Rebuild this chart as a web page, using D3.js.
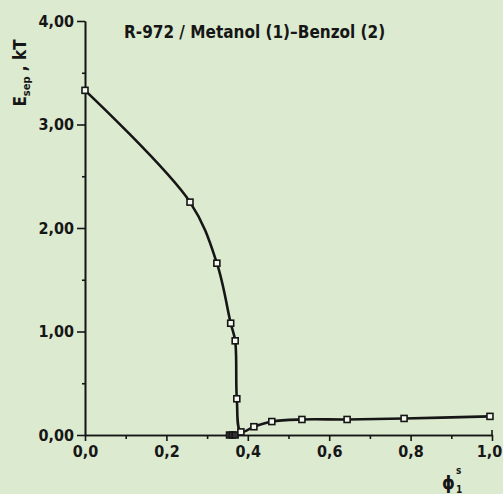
<!DOCTYPE html>
<html>
<head>
<meta charset="utf-8">
<script src="https://cdn.jsdelivr.net/npm/d3@7"></script>
<style>
  html, body { margin: 0; padding: 0; background: #dcead0; }
  svg { display: block; }
  text { font-family: "DejaVu Sans Condensed", "DejaVu Sans", sans-serif; fill: #161616; }
</style>
</head>
<body>
<div id="chart"></div>
<script>
// separation energy vs volume fraction
var phiValues = [0.0, 0.258, 0.324, 0.358, 0.369, 0.373, 0.383, 0.415, 0.459, 0.533, 0.644, 0.784, 0.995];
var esepValues = [3.33, 2.25, 1.66, 1.08, 0.91, 0.35, 0.03, 0.08, 0.13, 0.15, 0.15, 0.16, 0.18];
// points lying on the axis
var zeroPhi = [0.355, 0.362, 0.369];
var zeroEsep = [0, 0, 0];

var xTicks = [0.0, 0.2, 0.4, 0.6, 0.8, 1.0];
var xMinor = [0.1, 0.3, 0.5, 0.7, 0.9];
var yTicks = [0, 1, 2, 3, 4];
var yMinor = [0.5, 1.5, 2.5, 3.5];

var width = 503, height = 494;
var margin = {top: 21, right: 11, bottom: 59, left: 85};
var gwidth = width - margin.left - margin.right,
    gheight = height - margin.top - margin.bottom;

var svg = d3.select("#chart").append("svg")
  .attr("width", width)
  .attr("height", height);

var g = svg.append("g")
  .attr("transform", "translate(" + margin.left + "," + margin.top + ")");

var x = d3.scaleLinear().domain([0, 1]).range([0, gwidth]);
var y = d3.scaleLinear().domain([0, 4]).range([gheight, 0]);

var comma = function(n) { return function(d) { return d3.format("." + n + "f")(d).replace(".", ","); }; };

// x axis
var xAxis = g.append("g")
  .attr("transform", "translate(0," + gheight + ")")
  .call(d3.axisBottom(x).tickValues(xTicks).tickSize(6).tickSizeOuter(0).tickFormat(comma(1)));
xAxis.append("g").call(d3.axisBottom(x).tickValues(xMinor).tickSize(4).tickSizeOuter(0).tickFormat(""));
xAxis.selectAll("path, line").attr("stroke", "#161616").attr("stroke-width", 1.6);
xAxis.selectAll("text").style("font-size", "16px").style("font-weight", "bold").attr("dy", "0.95em").attr("y", 7).style("fill", "#161616");
xAxis.selectAll(".tick text").filter(function(d) { return d === 1; }).attr("x", -3);
xAxis.append("line")
  .attr("x1", x(1)).attr("x2", x(1)).attr("y1", 0).attr("y2", -5)
  .attr("stroke", "#161616").attr("stroke-width", 1.6);

// y axis
var yAxis = g.append("g")
  .call(d3.axisLeft(y).tickValues(yTicks).tickSize(8).tickSizeOuter(0).tickFormat(comma(2)));
yAxis.append("g").call(d3.axisLeft(y).tickValues(yMinor).tickSize(3).tickSizeOuter(0).tickFormat(""));
yAxis.selectAll("path, line").attr("stroke", "#161616").attr("stroke-width", 1.6);
yAxis.selectAll("text").style("font-size", "16px").style("font-weight", "bold").attr("x", -11).style("fill", "#161616");

// curve
var line = d3.line()
  .x(function(d, i) { return x(phiValues[i]); })
  .y(function(d, i) { return y(esepValues[i]); })
  .curve(d3.curveCatmullRom.alpha(0.5));

g.append("path")
  .datum(phiValues)
  .attr("d", line)
  .attr("fill", "none")
  .attr("stroke", "#161616")
  .attr("stroke-width", 2.6);

var size = 6;
g.selectAll("rect.zero")
  .data(zeroPhi).enter()
  .append("rect")
  .attr("class", "zero")
  .attr("x", function(d) { return x(d) - size / 2; })
  .attr("y", function(d, i) { return y(zeroEsep[i]) - size / 2; })
  .attr("width", size).attr("height", size)
  .attr("fill", "#333")
  .attr("stroke", "#161616")
  .attr("stroke-width", 1.5);

g.selectAll("rect.pt")
  .data(phiValues).enter()
  .append("rect")
  .attr("class", "pt")
  .attr("x", function(d) { return x(d) - size / 2; })
  .attr("y", function(d, i) { return y(esepValues[i]) - size / 2; })
  .attr("width", size).attr("height", size)
  .attr("fill", "#f4f8ee")
  .attr("stroke", "#161616")
  .attr("stroke-width", 1.6);

// title
svg.append("text")
  .attr("x", 124)
  .attr("y", 38)
  .style("font-size", "17px")
  .style("font-weight", "bold")
  .text("R-972 / Metanol (1)\u2013Benzol (2)");

// y label
var ylab = svg.append("text")
  .attr("transform", "translate(26,73) rotate(-90)")
  .style("text-anchor", "middle")
  .style("font-size", "17px")
  .style("font-weight", "bold");
ylab.append("tspan").text("E");
ylab.append("tspan").attr("dy", 4).style("font-size", "11px").text("sep");
ylab.append("tspan").attr("dy", -4).text(" , kT");

// x label
svg.append("text")
  .attr("x", 442)
  .attr("y", 489)
  .style("font-size", "18px")
  .style("font-weight", "bold")
  .text("\u03d5");
svg.append("text").attr("x", 456).attr("y", 474).style("font-size", "10px").style("font-weight", "bold").text("s");
svg.append("text").attr("x", 456).attr("y", 493).style("font-size", "10px").style("font-weight", "bold").text("1");
</script>
</body>
</html>
